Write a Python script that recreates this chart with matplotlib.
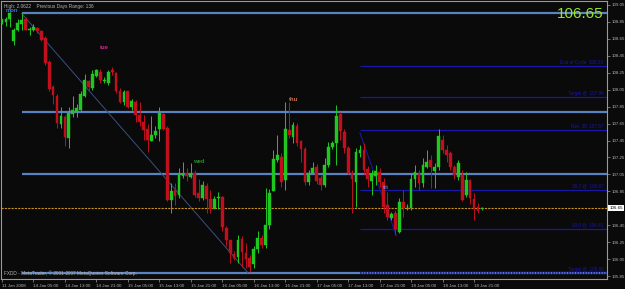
import matplotlib
matplotlib.use('Agg')
import matplotlib.pyplot as plt
import numpy as np

# hourly candles (O, H, L, C)
opens = [108.84, 108.85, 108.89, 108.62, 108.76, 108.83, 108.88, 108.75, 108.76, 108.78,
         108.74, 108.66, 108.38, 108.08, 107.98, 107.65, 107.73, 107.48, 107.76, 107.79,
         107.81, 107.98, 108.15, 108.07, 108.21, 108.26, 108.15, 108.13, 108.28, 108.25,
         108.04, 107.91, 108.03, 107.84, 107.91, 107.75, 107.67, 107.58, 107.45, 107.52,
         107.58, 107.76, 107.60, 106.75, 106.86, 106.81, 107.03, 107.07, 107.02, 107.07,
         106.83, 106.77, 106.91, 106.76, 106.65, 106.77, 106.78, 106.42, 106.27, 106.11,
         106.07, 106.29, 106.12, 106.06, 105.99, 106.17, 106.30, 106.22, 106.45, 106.85,
         107.22, 107.26, 106.98, 107.57, 107.49, 107.62, 107.45, 107.35, 106.96, 107.07,
         107.14, 107.01, 106.93, 107.16, 107.37, 107.42, 107.76, 107.55, 107.36, 107.07,
         106.96, 107.30, 107.34, 107.11, 106.97, 107.03, 107.08, 106.96, 106.69, 106.54,
         106.60, 106.37, 106.72, 106.66, 106.65, 106.99, 107.06, 106.95, 107.14, 107.22,
         107.09, 107.14, 107.46, 107.34, 107.30, 107.14, 107.02, 107.04, 106.81, 106.98,
         106.76, 106.67, 106.64]
highs = [108.89, 108.91, 108.97, 108.78, 108.89, 108.95, 108.91, 108.79, 108.83, 108.79,
         108.76, 108.68, 108.40, 108.11, 108.00, 107.84, 107.75, 107.85, 107.98, 107.88,
         108.03, 108.24, 108.17, 108.28, 108.29, 108.29, 108.20, 108.28, 108.32, 108.26,
         108.07, 108.05, 108.04, 107.94, 107.93, 107.90, 107.75, 107.65, 107.74, 107.62,
         107.84, 107.78, 107.62, 106.95, 106.95, 107.12, 107.20, 107.12, 107.18, 107.10,
         106.99, 106.97, 106.95, 106.87, 106.79, 106.84, 106.79, 106.44, 106.28, 106.14,
         106.34, 106.32, 106.24, 106.10, 106.20, 106.38, 106.33, 106.89, 106.88, 107.34,
         107.52, 107.30, 107.90, 107.90, 107.67, 107.66, 107.46, 107.37, 107.10, 107.20,
         107.17, 107.04, 107.24, 107.43, 107.44, 107.87, 107.79, 107.58, 107.38, 107.10,
         107.36, 107.40, 107.42, 107.15, 107.10, 107.16, 107.13, 107.01, 106.84, 106.61,
         106.63, 106.77, 106.87, 106.70, 107.07, 107.16, 107.10, 107.24, 107.34, 107.28,
         107.19, 107.58, 107.52, 107.40, 107.33, 107.16, 107.22, 107.10, 107.08, 107.00,
         106.83, 106.71, 106.66]
lows = [108.83, 108.80, 108.79, 108.58, 108.74, 108.76, 108.75, 108.70, 108.74, 108.72,
        108.62, 108.34, 108.04, 107.88, 107.60, 107.60, 107.38, 107.36, 107.73, 107.73,
        107.79, 107.96, 108.05, 108.05, 108.20, 108.13, 108.13, 108.11, 108.22, 108.01,
        107.89, 107.87, 107.83, 107.81, 107.67, 107.62, 107.46, 107.32, 107.44, 107.48,
        107.45, 107.57, 106.73, 106.59, 106.69, 106.77, 107.01, 106.97, 107.01, 106.78,
        106.73, 106.75, 106.59, 106.59, 106.64, 106.64, 106.38, 106.20, 106.00, 106.04,
        106.00, 105.96, 105.94, 105.90, 105.95, 106.12, 106.18, 106.18, 106.40, 106.85,
        107.20, 106.90, 106.87, 107.48, 107.42, 107.38, 107.20, 106.93, 106.93, 107.05,
        106.94, 106.87, 106.90, 107.14, 107.35, 107.16, 107.46, 107.30, 107.05, 106.60,
        106.67, 107.25, 107.05, 106.90, 106.81, 106.93, 106.90, 106.60, 106.51, 106.51,
        106.34, 106.36, 106.55, 106.63, 106.63, 106.90, 106.87, 106.90, 107.12, 106.89,
        106.89, 107.10, 107.30, 107.20, 107.10, 107.00, 106.98, 106.73, 106.78, 106.70,
        106.51, 106.60, 106.63]
closes = [108.88, 108.88, 108.96, 108.76, 108.84, 108.87, 108.76, 108.77, 108.79, 108.74,
          108.64, 108.37, 108.06, 107.99, 107.66, 107.74, 107.49, 107.77, 107.81, 107.83,
          108.00, 108.17, 108.08, 108.24, 108.28, 108.17, 108.17, 108.26, 108.26, 108.04,
          107.91, 108.02, 107.85, 107.92, 107.75, 107.67, 107.57, 107.46, 107.52, 107.56,
          107.77, 107.58, 106.75, 106.85, 106.79, 107.06, 107.06, 107.03, 107.06, 106.81,
          106.77, 106.93, 106.76, 106.64, 106.76, 106.78, 106.43, 106.27, 106.12, 106.06,
          106.27, 106.13, 106.05, 105.96, 106.17, 106.30, 106.22, 106.45, 106.83, 107.23,
          107.28, 106.96, 107.59, 107.52, 107.63, 107.42, 107.35, 106.96, 107.07, 107.13,
          106.97, 106.93, 107.16, 107.37, 107.42, 107.74, 107.56, 107.36, 107.07, 106.99,
          107.32, 107.34, 107.10, 106.99, 107.06, 107.09, 106.96, 106.67, 106.55, 106.58,
          106.40, 106.72, 106.65, 106.67, 106.99, 107.08, 106.95, 107.16, 107.20, 107.14,
          107.14, 107.50, 107.34, 107.28, 107.14, 107.04, 107.18, 106.75, 106.98, 106.77,
          106.64, 106.62, 106.65]

time_ticks = [0, 8, 16, 24, 32, 40, 48, 56, 64, 72, 80, 88, 96, 104, 112, 120]
time_labels = ['11 Jan 2008', '14 Jan 05:00', '14 Jan 13:00', '14 Jan 21:00', '15 Jan 05:00',
               '15 Jan 13:00', '15 Jan 21:00', '16 Jan 05:00', '16 Jan 13:00', '16 Jan 21:00',
               '17 Jan 05:00', '17 Jan 13:00', '17 Jan 21:00', '18 Jan 05:00', '18 Jan 13:00',
               '18 Jan 21:00']
price_ticks = [105.85, 106.05, 106.25, 106.45, 106.65, 106.85, 107.05, 107.25, 107.45,
               107.65, 107.85, 108.05, 108.25, 108.45, 108.65, 108.85, 109.05]

# previous-day high / low and fib levels (steel lines from bar 5)
steel_levels = [108.95, 107.79, 107.06, 105.89]
# projection levels from bar 91 (navy)
navy_levels = [108.33, 107.96, 107.57, 106.87, 106.41]
navy_texts = ['End of Cycle  108.33', 'Target @  107.96', 'Rev. 38  107.57',
              '38.2 @  106.87', '50.0 @  106.41']
target_low = 105.89
bid = 106.65

day_names = ['mon', 'tue', 'wed', 'thu', 'fri']
day_bars = [2.5, 26, 50, 74, 97.5]
day_prices = [108.99, 108.55, 107.20, 107.93, 106.89]
day_colors = ['#3a7ad0', '#e0209a', '#2e8b2e', '#c8704e', '#8a74c0']

BG = '#0a0a0a'
UP = '#1ec81e'
DN = '#c0101e'
STEEL = '#5b82c0'
NAVY = '#1818a8'
GRAY = '#b4b4b4'
FONT = ['Liberation Sans Narrow', 'Liberation Sans', 'DejaVu Sans']

fig = plt.figure(figsize=(6.25, 2.89), dpi=100, facecolor=BG)
ax = fig.add_axes([1 / 625, 10 / 289, 606 / 625, 278 / 289], facecolor=BG)

x = np.arange(len(opens))
o = np.array(opens); h = np.array(highs); l = np.array(lows); c = np.array(closes)
up = c >= o
cols = np.where(up, UP, DN)

ax.vlines(x, l, h, colors=cols, lw=0.7, zorder=3)
ax.bar(x, np.maximum(np.abs(c - o), 0.006), bottom=np.minimum(o, c), width=0.7,
       color=cols, edgecolor=cols, lw=0.3, zorder=4)

xmax = 153.8
for lv in steel_levels:
    ax.hlines(lv, 5, xmax, colors=STEEL, lw=1.6, zorder=2)
for lv, t in zip(navy_levels, navy_texts):
    ax.hlines(lv, 91, xmax, colors=NAVY, lw=0.9, zorder=2)
    ax.text(152.9, lv + 0.012, t, color=NAVY, fontsize=3.3, ha='right', va='bottom',
            family=FONT, zorder=5)
ax.hlines(target_low, 91, xmax, colors=NAVY, lw=1.2, linestyles=(0, (1, 0.6)), zorder=2.5)
ax.text(152.9, target_low + 0.012, 'Target @  105.89', color=NAVY, fontsize=3.3,
        ha='right', va='bottom', family=FONT, zorder=5)

# trend lines
ax.plot([5, 62.5], [108.95, 105.89], color='#3c4f80', lw=0.7, zorder=2)
ax.plot([91, 100.2], [107.54, 106.33], color=NAVY, lw=0.8, zorder=2)

# bid line
ax.axhline(bid, color='#c8901e', lw=0.8, ls=(0, (2, 1)), zorder=2)

for name, bx, py, col in zip(day_names, day_bars, day_prices, day_colors):
    ax.text(bx, py, name, color=col, fontsize=4.2, ha='center', va='center',
            family=FONT, fontweight='bold', zorder=6)

ax.text(0.005, 0.99, 'High: 2.0622    Previous Days Range: 136', transform=ax.transAxes,
        color=GRAY, fontsize=3.4, ha='left', va='top', family=FONT, zorder=6)
ax.text(0.005, 0.012, 'FXDD - MetaTrader, \u00a9 2001-2007 MetaQuotes Software Corp.',
        transform=ax.transAxes, color=GRAY, fontsize=3.4, ha='left', va='bottom',
        family=FONT, zorder=6)
ax.text(0.995, 0.955, '106.65', transform=ax.transAxes, color='#96e628', fontsize=11,
        ha='right', va='center', family=['Liberation Sans', 'DejaVu Sans'], zorder=6)

ax.set_xlim(-0.25, xmax)
ax.set_ylim(105.815, 109.097)

for s in ax.spines.values():
    s.set_color('#9a9a9a')
    s.set_linewidth(0.8)

ax.set_xticks(time_ticks)
ax.set_xticklabels(time_labels, ha='left', fontsize=3.2, color=GRAY, family=FONT)
ax.tick_params(axis='x', length=2, width=0.5, color='#9a9a9a', pad=1.5)

ax.yaxis.tick_right()
ax.set_yticks(price_ticks)
# the bid box sits on top of the 106.65 tick
ax.set_yticklabels(['' if abs(p - bid) < 0.001 else f'{p:.2f}' for p in price_ticks],
                   fontsize=3.2, color=GRAY, family=FONT)
ax.tick_params(axis='y', length=2, width=0.5, color='#9a9a9a', pad=1.5)

ax.text(1.004, (bid - 105.815) / (109.097 - 105.815), '106.65', transform=ax.transAxes,
        fontsize=3.2, color='black', ha='left', va='center', family=FONT, zorder=10,
        bbox=dict(boxstyle='square,pad=0.25', fc='white', ec='white', lw=0), clip_on=False)

fig.savefig('out.png', dpi=100, facecolor=BG)
